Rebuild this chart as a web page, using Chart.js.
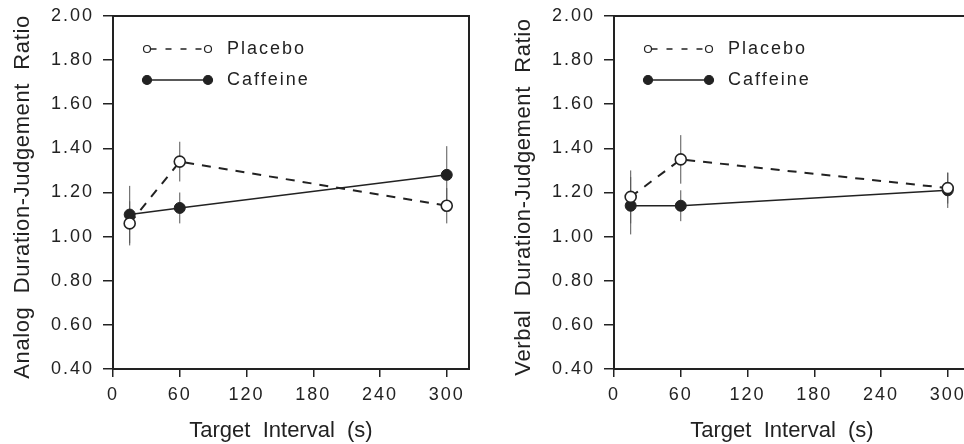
<!DOCTYPE html>
<html>
<head>
<meta charset="utf-8">
<script src="https://cdn.jsdelivr.net/npm/chart.js@4"></script>
<style>
  html, body { margin: 0; padding: 0; background: #fff; overflow: hidden; }
  .panel { position: absolute; top: 0; width: 490px; height: 444px; }
</style>
</head>
<body>
<div class="panel" style="left:0"><canvas id="analogChart"></canvas></div>
<div class="panel" style="left:501px"><canvas id="verbalChart"></canvas></div>
<script>
// data
const intervals = [15, 60, 300];
const seriesNames = ['Placebo', 'Caffeine'];

const analogPlacebo = [1.06, 1.34, 1.14];
const analogPlaceboErr = [0.10, 0.09, 0.08];
const analogCaffeine = [1.10, 1.13, 1.28];
const analogCaffeineErr = [0.13, 0.07, 0.13];

const verbalPlacebo = [1.18, 1.35, 1.22];
const verbalPlaceboErr = [0.12, 0.11, 0.07];
const verbalCaffeine = [1.14, 1.14, 1.21];
const verbalCaffeineErr = [0.13, 0.07, 0.08];

const xTicks = [0, 60, 120, 180, 240, 300];
const yTicks = [0.4, 0.6, 0.8, 1.0, 1.2, 1.4, 1.6, 1.8, 2.0];
const xTitle = 'Target  Interval  (s)';

const ink = '#222';
const family = '"Liberation Sans", Arial, sans-serif';
Chart.defaults.font.family = family;
Chart.defaults.color = ink;

// vertical error bars, drawn under the markers
const errorBars = {
    id: 'errorBars',
    beforeDatasetsDraw(chart) {
        const ctx = chart.ctx;
        const xs = chart.scales.x, ys = chart.scales.y;
        ctx.save();
        ctx.strokeStyle = '#555';
        ctx.lineWidth = 1;
        chart.data.datasets.forEach(ds => {
            ds.data.forEach((p, i) => {
                const e = ds.errors[i];
                const px = xs.getPixelForValue(p.x);
                ctx.beginPath();
                ctx.moveTo(px, ys.getPixelForValue(p.y - e));
                ctx.lineTo(px, ys.getPixelForValue(p.y + e));
                ctx.stroke();
            });
        });
        ctx.restore();
    }
};

// frame, axis titles and the legend in the top-left corner
const frameAndLegend = {
    id: 'frameAndLegend',
    beforeDraw(chart) {
        chart.ctx.letterSpacing = '2px';
    },
    afterDraw(chart) {
        const ctx = chart.ctx;
        const a = chart.chartArea;
        ctx.save();
        ctx.strokeStyle = ink;
        ctx.lineWidth = 2;
        ctx.strokeRect(a.left, a.top, a.right - a.left, a.bottom - a.top);

        // legend
        chart.data.datasets.forEach((ds, i) => {
            const y = a.top + 33 + i * 31;
            const x1 = a.left + 34, x2 = a.left + 95;
            const open = i === 0;
            const r = open ? 3.5 : 4.5;
            ctx.lineWidth = 1.5;
            ctx.strokeStyle = ink;
            ctx.setLineDash(open ? [6, 9] : []);
            ctx.beginPath();
            ctx.moveTo(x1 + r, y);
            ctx.lineTo(x2 - r, y);
            ctx.stroke();
            ctx.setLineDash([]);
            [x1, x2].forEach(cx => {
                ctx.beginPath();
                ctx.arc(cx, y, r, 0, Math.PI * 2);
                ctx.fillStyle = open ? '#fff' : ink;
                ctx.fill();
                ctx.lineWidth = 1.2;
                ctx.stroke();
            });
            ctx.fillStyle = ink;
            ctx.font = '18px ' + family;
            ctx.letterSpacing = '2px';
            ctx.textBaseline = 'middle';
            ctx.textAlign = 'left';
            ctx.fillText(ds.label, a.left + 114, y);
        });

        // axis titles
        ctx.fillStyle = ink;
        ctx.font = '22px ' + family;
        ctx.letterSpacing = '0px';
        ctx.textAlign = 'center';
        ctx.textBaseline = 'alphabetic';
        ctx.fillText(xTitle, a.left + 168, a.bottom + 68);
        ctx.translate(a.left - 84, a.top + 181);
        ctx.rotate(-Math.PI / 2);
        ctx.letterSpacing = '0.6px';
        ctx.fillText(chart.options.yTitleText, 0, 0);
        ctx.restore();
        ctx.letterSpacing = '2px';
    }
};

function makeChart(id, yTitle, placebo, placeboErr, caffeine, caffeineErr) {
    const ctx = document.getElementById(id).getContext('2d');
    return new Chart(ctx, {
        type: 'line',
        data: {
            datasets: [{
                label: seriesNames[0],
                data: intervals.map((x, i) => ({ x: x, y: placebo[i] })),
                errors: placeboErr,
                borderColor: ink,
                borderWidth: 2,
                borderDash: [9, 8],
                pointRadius: 5.5,
                pointBackgroundColor: '#fff',
                pointBorderColor: ink,
                pointBorderWidth: 1.6,
                tension: 0,
                clip: false
            }, {
                label: seriesNames[1],
                data: intervals.map((x, i) => ({ x: x, y: caffeine[i] })),
                errors: caffeineErr,
                borderColor: ink,
                borderWidth: 1.5,
                pointRadius: 5.5,
                pointBackgroundColor: ink,
                pointBorderColor: ink,
                pointBorderWidth: 1,
                tension: 0,
                clip: false
            }]
        },
        options: {
            responsive: true,
            maintainAspectRatio: false,
            animation: false,
            yTitleText: yTitle,
            layout: { padding: { top: 16, right: 21, left: 0, bottom: 0 } },
            plugins: {
                legend: { display: false },
                tooltip: { enabled: false }
            },
            scales: {
                x: {
                    type: 'linear',
                    min: 0,
                    max: 320,
                    afterBuildTicks: s => { s.ticks = xTicks.map(v => ({ value: v })); },
                    afterFit: s => { s.height = 75; s.paddingLeft = 0; s.paddingRight = 0; },
                    grid: { drawOnChartArea: false, tickLength: 8, color: ink, lineWidth: 1.5 },
                    border: { display: false },
                    ticks: { font: { size: 18 }, padding: 7, maxRotation: 0 }
                },
                y: {
                    min: 0.4,
                    max: 2.0,
                    afterBuildTicks: s => { s.ticks = yTicks.map(v => ({ value: v })); },
                    afterFit: s => { s.width = 113; s.paddingTop = 0; s.paddingBottom = 0; },
                    grid: { drawOnChartArea: false, tickLength: 10, color: ink, lineWidth: 1.5 },
                    border: { display: false },
                    ticks: {
                        font: { size: 18 },
                        padding: 9,
                        callback: v => Number(v).toFixed(2)
                    }
                }
            }
        },
        plugins: [errorBars, frameAndLegend]
    });
}

makeChart('analogChart', 'Analog  Duration-Judgement  Ratio',
    analogPlacebo, analogPlaceboErr, analogCaffeine, analogCaffeineErr);
makeChart('verbalChart', 'Verbal  Duration-Judgement  Ratio',
    verbalPlacebo, verbalPlaceboErr, verbalCaffeine, verbalCaffeineErr);
</script>
</body>
</html>
